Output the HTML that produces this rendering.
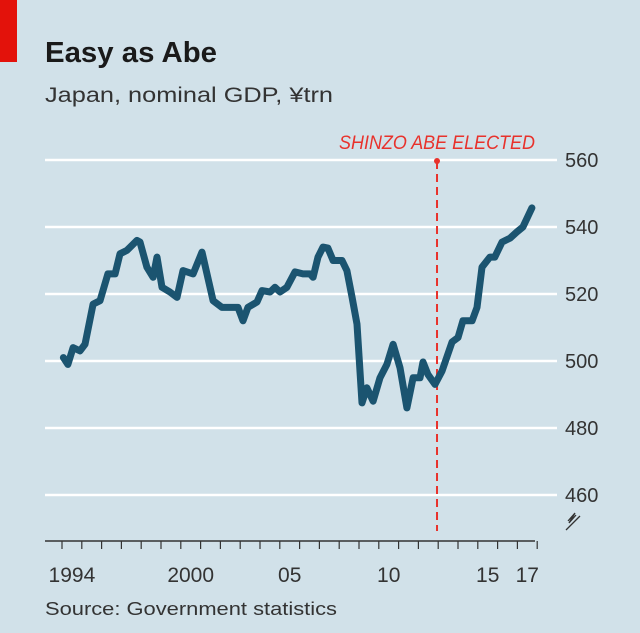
<!DOCTYPE html>
<html><head><meta charset="utf-8"><style>
html,body{margin:0;padding:0;}
body{width:640px;height:633px;background:#d1e1e9;overflow:hidden;position:relative;font-family:"Liberation Sans",sans-serif;}
</style></head><body>
<svg width="640" height="633" style="position:absolute;left:0;top:0">
<rect x="0" y="0" width="640" height="633" fill="#d1e1e9"/>
<rect x="0" y="0" width="17" height="62" fill="#e3120b"/>
<text x="45" y="62" font-size="29" font-weight="bold" fill="#1a1a1a" textLength="172" lengthAdjust="spacingAndGlyphs">Easy as Abe</text>
<text x="45" y="102" font-size="21" fill="#333" textLength="288" lengthAdjust="spacingAndGlyphs">Japan, nominal GDP, ¥trn</text>
<g id="grid"></g>
<g id="xaxis"></g>
<g id="annot"></g>
<path id="line" fill="none" stroke="#1b5470" stroke-width="7" stroke-linejoin="round" stroke-linecap="round"/>
<path d="M568,521 L575,513 L569,523 L576,515 M566,530 L580,516" fill="none" stroke="#333" stroke-width="1.3"/>
<text x="45" y="615" font-size="18" fill="#333" textLength="292" lengthAdjust="spacingAndGlyphs">Source: Government statistics</text>
</svg>
<script>
const years=[1994.07,1994.30,1994.56,1994.91,1995.16,1995.57,1995.92,1996.32,1996.68,1996.93,1997.28,1997.79,1997.94,1998.29,1998.60,1998.80,1999.05,1999.45,1999.81,2000.11,2000.62,2001.07,2001.63,2002.08,2002.48,2002.89,2003.14,2003.39,2003.85,2004.10,2004.51,2004.76,2005.01,2005.36,2005.77,2006.17,2006.53,2006.68,2006.93,2007.18,2007.43,2007.69,2008.14,2008.39,2008.65,2008.90,2009.15,2009.40,2009.71,2010.06,2010.41,2010.72,2011.07,2011.42,2011.73,2012.08,2012.23,2012.48,2012.84,2013.19,2013.70,2014.00,2014.25,2014.71,2014.96,2015.21,2015.61,2015.86,2016.22,2016.63,2016.97,2017.28,2017.73];
const gdp=[501,499,504,503,505,517,518,526,526,532,533,536,535.5,528,525,531,522,520.6,519,527,526,532.5,518,516,516,516,512,516,517.6,521,520.6,522,520.6,522,526.6,526,526,525,531,534,533.7,530,530,527,519,511,487.5,492,488,495,499,505,498,486,495,495,499.7,496,493,497,505.7,507,512,512,516,528,531,531,535.5,536.7,538.5,540,545.7];
const yTicks=[460,480,500,520,540,560];
const xLabels=["1994","2000","05","10","15","17"];
const xLabelYears=[1994,2000,2005,2010,2015,2017];
const electionYear=2012.94;
const ns="http://www.w3.org/2000/svg";
function xs(t){return 62+(t-1994)*19.8;}
function ys(v){return 361-(v-500)*3.35;}
function mk(tag,attrs,parent){const e=document.createElementNS(ns,tag);for(const k in attrs)e.setAttribute(k,attrs[k]);parent.appendChild(e);return e;}
const grid=document.getElementById('grid');
yTicks.forEach(v=>{
  const l=mk('line',{x1:45,x2:557,y1:ys(v),y2:ys(v),stroke:'#fff','stroke-width':2.5},grid);
  
  
  const t=mk('text',{x:565,y:ys(v)+7,'font-size':20,fill:'#333'},grid);
  t.textContent=v;
  
  
});
const xa=document.getElementById('xaxis');
const ax=mk('line',{x1:45,x2:535,y1:541,y2:541,stroke:'#333','stroke-width':1.5},xa);


for(let y=1994;y<=2018;y++){
  const tk=mk('line',{x1:xs(y),x2:xs(y),y1:541,y2:549,stroke:'#333','stroke-width':1.2},xa);
  
  
}
xLabels.forEach((s,i)=>{
  const t=mk('text',{x:xs(xLabelYears[i]+0.5),y:582,'font-size':21,fill:'#333','text-anchor':'middle'},xa);
  t.textContent=s;
  
  
});
const an=document.getElementById('annot');
const ex=xs(electionYear);
const dl=mk('line',{x1:ex,x2:ex,y1:161,y2:531,stroke:'#e8322c','stroke-width':2,'stroke-dasharray':'8,5'},an);


const dot=mk('circle',{cx:ex,cy:161,r:3,fill:'#e8322c'},an);


const at=mk('text',{x:535,y:149,'font-size':19,fill:'#e8322c','font-style':'italic','text-anchor':'end',textLength:196,lengthAdjust:'spacingAndGlyphs'},an);
at.textContent='SHINZO ABE ELECTED';


document.getElementById('line').setAttribute('d',years.map((t,i)=>(i?'L':'M')+xs(t).toFixed(1)+','+ys(gdp[i]).toFixed(1)).join(''));
</script>
</body></html>
